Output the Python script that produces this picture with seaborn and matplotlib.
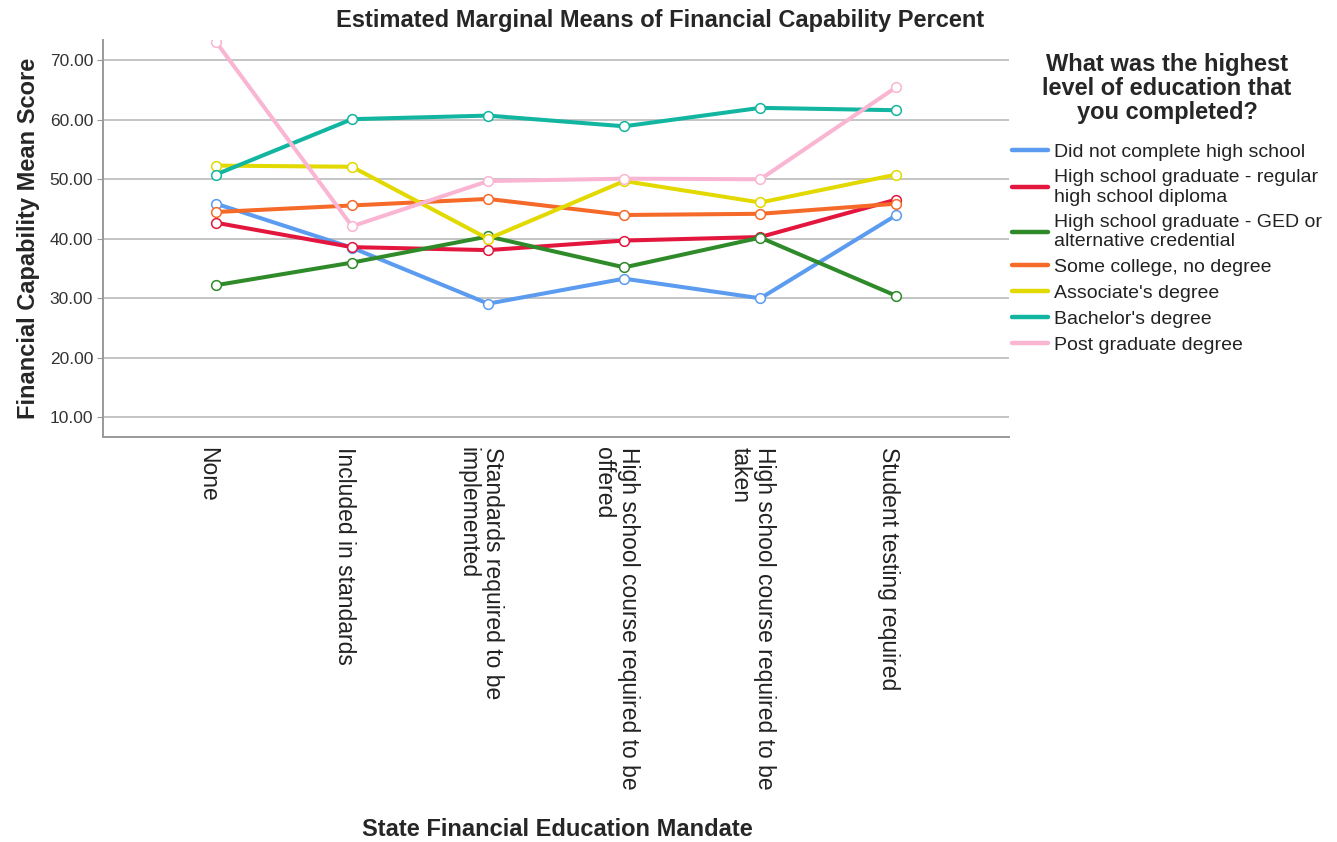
import pandas as pd
import matplotlib.pyplot as plt
import matplotlib.transforms as mtransforms
import seaborn as sns
from matplotlib.lines import Line2D

# categories on the x axis (state mandate)
mandates = ["None", "Included in standards", "Standards required to be\nimplemented",
            "High school course required to be\noffered", "High school course required to be\ntaken",
            "Student testing required"]

# education groups (legend)
groups = ["Did not complete high school",
          "High school graduate - regular\nhigh school diploma",
          "High school graduate - GED or\nalternative credential",
          "Some college, no degree",
          "Associate's degree",
          "Bachelor's degree",
          "Post graduate degree"]

# mean scores
did_not_complete = [45.9, 38.5, 29.1, 33.3, 30.0, 44.0]
hs_regular = [42.7, 38.6, 38.1, 39.7, 40.3, 46.6]
hs_ged = [32.2, 36.0, 40.4, 35.2, 40.2, 30.4]
some_college = [44.5, 45.6, 46.7, 44.0, 44.2, 45.9]
associate = [52.3, 52.1, 40.0, 49.7, 46.1, 50.8]
bachelor = [50.8, 60.1, 60.7, 58.9, 62.0, 61.6]
post_grad = [73.1, 42.1, 49.7, 50.1, 50.0, 65.5]

colors = ["#5b9bf0", "#e3173e", "#2f8a2a", "#f56a29", "#e2d900", "#12b5a0", "#f9b5d2"]

series = [did_not_complete, hs_regular, hs_ged, some_college, associate, bachelor, post_grad]
rows = []
for g, vals in zip(groups, series):
    for i, (m, v) in enumerate(zip(mandates, vals)):
        rows.append({"pos": i, "mandate": m, "group": g, "score": v})
df = pd.DataFrame(rows)

sns.set_style("white")
plt.rcParams['font.family'] = ['Liberation Sans', 'DejaVu Sans']

fig = plt.figure(figsize=(13.37, 8.42), dpi=100)
ax = fig.add_axes([0.077, 0.481, 0.678, 0.4715])

sns.lineplot(data=df, x="pos", y="score", hue="group", hue_order=groups,
             palette=colors, marker="o", markersize=7, linewidth=2.9,
             sort=False, ax=ax, legend=False)
for line, c in zip(ax.lines, colors):
    line.set_markerfacecolor("white")
    line.set_markeredgecolor(c)
    line.set_markeredgewidth(1.1)

ax.set_xlim(-0.83, 5.83)
ax.set_ylim(6.7, 73.4)
ticks = [10, 20, 30, 40, 50, 60, 70]
ax.set_yticks(ticks)
ax.set_yticklabels([f"{t:.2f}" for t in ticks], fontsize=12.5, color="#333333")
ax.yaxis.grid(True, color="#c4c4c4", linewidth=1.4)
ax.set_axisbelow(True)
ax.tick_params(axis="x", length=0, pad=7)
ax.tick_params(axis="y", length=4, color="#999999", left=True, pad=3)
ax.set_xticks(range(len(mandates)))
ax.set_xticklabels(mandates, rotation=270, fontsize=16.5, color="#222222",
                   va="top", ha="center", multialignment="left", linespacing=1.1)
shift = mtransforms.ScaledTranslation(-8 / 100, 0, fig.dpi_scale_trans)
for lab in ax.get_xticklabels():
    lab.set_transform(lab.get_transform() + shift)
for s in ["top", "right"]:
    ax.spines[s].set_visible(False)
for s in ["left", "bottom"]:
    ax.spines[s].set_color("#999999")
    ax.spines[s].set_linewidth(1.4)

ax.set_xlabel("")
ax.set_ylabel("Financial Capability Mean Score", fontsize=17, fontweight="bold", labelpad=7)
fig.text(0.494, 0.976, "Estimated Marginal Means of Financial Capability Percent",
         ha="center", va="center", fontsize=17, fontweight="bold")
fig.text(0.417, 0.0145, "State Financial Education Mandate", ha="center", va="center",
         fontsize=17, fontweight="bold")

handles = [Line2D([0], [0], color=c, linewidth=3.2) for c in colors]
leg = fig.legend(handles, groups, loc="upper left", bbox_to_anchor=(0.757, 0.937),
                 frameon=False, fontsize=14, handlelength=1.85, handletextpad=0.3,
                 labelspacing=0.42, borderpad=0, borderaxespad=0,
                 title="What was the highest\nlevel of education that\nyou completed?",
                 title_fontproperties={"size": 17, "weight": "bold"})
leg.get_title().set_linespacing(1.05)
leg.get_title().set_multialignment("center")
for t in leg.get_texts():
    t.set_linespacing(1.2)
    t.set_color("#222222")
leg._legend_box.sep = 14

fig.savefig("out.png", dpi=100)
